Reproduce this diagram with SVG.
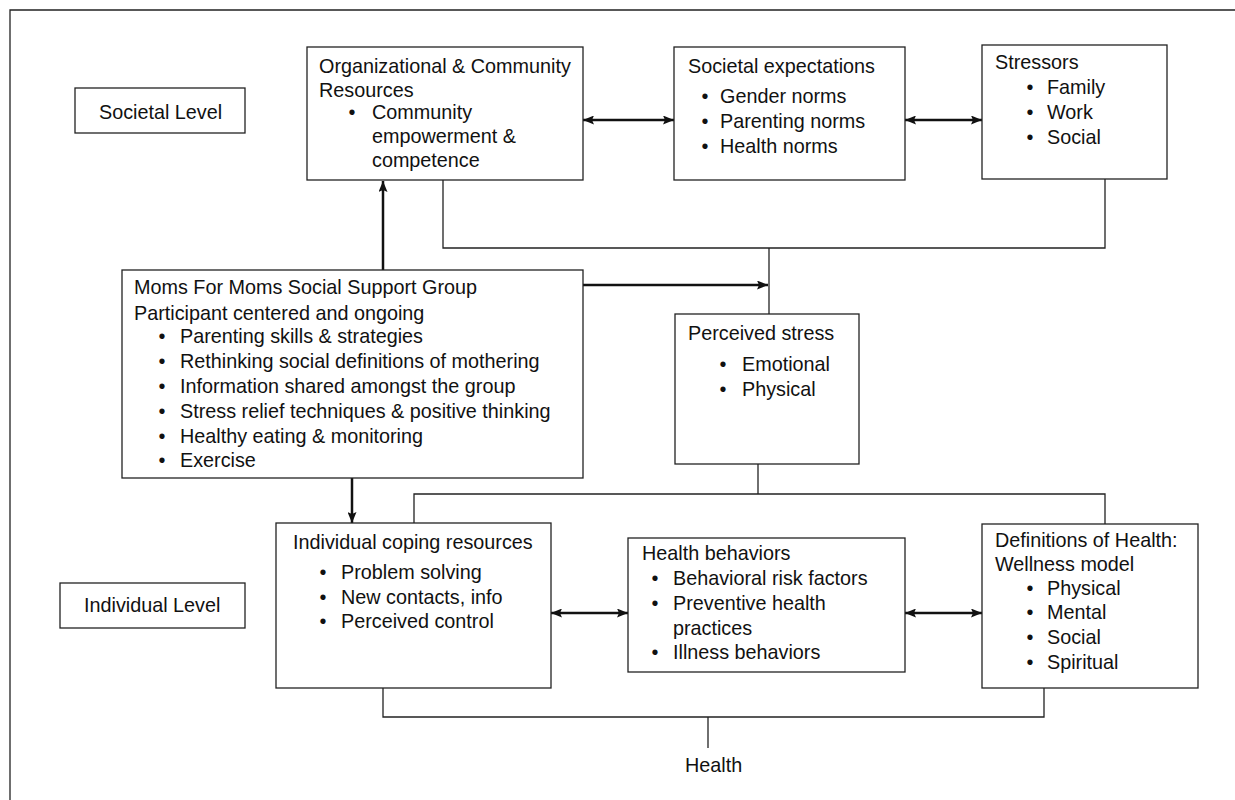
<svg xmlns="http://www.w3.org/2000/svg" width="1235" height="800" viewBox="0 0 1235 800">
<style>
.box{fill:#fff;stroke:#222;stroke-width:1.3}
.ln{fill:none;stroke:#222;stroke-width:1.3}
.ar{fill:none;stroke:#111;stroke-width:2.5}
text{font-family:"Liberation Sans",Arial,sans-serif;font-size:19.8px;fill:#111}
.b{text-anchor:middle}
</style>
<defs>
<marker id="ah" viewBox="0 0 11 9" refX="11" refY="4.5" markerWidth="11" markerHeight="9" markerUnits="userSpaceOnUse" orient="auto-start-reverse">
<path d="M0,0 L11,4.5 L0,9 L2,4.5 z" fill="#111"/>
</marker>
</defs>
<rect width="1235" height="800" fill="#fff"/>
<path class="ln" d="M10,800 L10,10 L1235,10"/>

<g id="connectors">
<polyline class="ln" points="443,180 443,248 1105,248 1105,179"/>
<line class="ln" x1="769" y1="248" x2="769" y2="314"/>
<line class="ln" x1="758" y1="464" x2="758" y2="494"/>
<polyline class="ln" points="414,523 414,494 1105,494 1105,524"/>
<polyline class="ln" points="383,688 383,717 1044,717 1044,688"/>
<line class="ln" x1="708" y1="717" x2="708" y2="748"/>
<line class="ar" x1="583" y1="120" x2="674" y2="120" marker-start="url(#ah)" marker-end="url(#ah)"/>
<line class="ar" x1="905" y1="120" x2="982" y2="120" marker-start="url(#ah)" marker-end="url(#ah)"/>
<line class="ar" x1="383" y1="270" x2="383" y2="181" marker-end="url(#ah)"/>
<line class="ar" x1="583" y1="285" x2="768" y2="285" stroke-width="3" marker-end="url(#ah)"/>
<line class="ar" x1="352" y1="478" x2="352" y2="523" marker-end="url(#ah)"/>
<line class="ar" x1="551" y1="613" x2="628" y2="613" marker-start="url(#ah)" marker-end="url(#ah)"/>
<line class="ar" x1="905" y1="613" x2="982" y2="613" marker-start="url(#ah)" marker-end="url(#ah)"/>
</g>

<g id="societal-level">
<rect class="box" x="75" y="88" width="170" height="45"/>
<text x="99" y="119">Societal Level</text>
</g>

<g id="org-community">
<rect class="box" x="307" y="47" width="276" height="133"/>
<text x="319" y="73">Organizational &amp; Community</text>
<text x="319" y="97">Resources</text>
<text class="b" x="352" y="119">•</text>
<text x="372" y="119">Community</text>
<text x="372" y="143">empowerment &amp;</text>
<text x="372" y="167">competence</text>
</g>

<g id="societal-expectations">
<rect class="box" x="674" y="47" width="231" height="133"/>
<text x="688" y="73">Societal expectations</text>
<text class="b" x="705" y="103">•</text><text x="720" y="103">Gender norms</text>
<text class="b" x="705" y="128">•</text><text x="720" y="128">Parenting norms</text>
<text class="b" x="705" y="153">•</text><text x="720" y="153">Health norms</text>
</g>

<g id="stressors">
<rect class="box" x="982" y="45" width="185" height="134"/>
<text x="995" y="69">Stressors</text>
<text class="b" x="1030" y="94">•</text><text x="1047" y="94">Family</text>
<text class="b" x="1030" y="119">•</text><text x="1047" y="119">Work</text>
<text class="b" x="1030" y="144">•</text><text x="1047" y="144">Social</text>
</g>

<g id="moms-for-moms">
<rect class="box" x="122" y="270" width="461" height="208"/>
<text x="134" y="294">Moms For Moms Social Support Group</text>
<text x="134" y="320">Participant centered and ongoing</text>
<text class="b" x="162" y="343">•</text><text x="180" y="343">Parenting skills &amp; strategies</text>
<text class="b" x="162" y="368">•</text><text x="180" y="368">Rethinking social definitions of mothering</text>
<text class="b" x="162" y="393">•</text><text x="180" y="393">Information shared amongst the group</text>
<text class="b" x="162" y="418">•</text><text x="180" y="418">Stress relief techniques &amp; positive thinking</text>
<text class="b" x="162" y="443">•</text><text x="180" y="443">Healthy eating &amp; monitoring</text>
<text class="b" x="162" y="467">•</text><text x="180" y="467">Exercise</text>
</g>

<g id="perceived-stress">
<rect class="box" x="675" y="314" width="184" height="150"/>
<text x="688" y="340">Perceived stress</text>
<text class="b" x="723" y="371">•</text><text x="742" y="371">Emotional</text>
<text class="b" x="723" y="396">•</text><text x="742" y="396">Physical</text>
</g>

<g id="individual-level">
<rect class="box" x="60" y="583" width="185" height="45"/>
<text x="84" y="612">Individual Level</text>
</g>

<g id="coping-resources">
<rect class="box" x="276" y="523" width="275" height="165"/>
<text x="293" y="549">Individual coping resources</text>
<text class="b" x="323" y="579">•</text><text x="341" y="579">Problem solving</text>
<text class="b" x="323" y="604">•</text><text x="341" y="604">New contacts, info</text>
<text class="b" x="323" y="628">•</text><text x="341" y="628">Perceived control</text>
</g>

<g id="health-behaviors">
<rect class="box" x="628" y="538" width="277" height="134"/>
<text x="642" y="560">Health behaviors</text>
<text class="b" x="655" y="585">•</text><text x="673" y="585">Behavioral risk factors</text>
<text class="b" x="655" y="610">•</text><text x="673" y="610">Preventive health</text>
<text x="673" y="635">practices</text>
<text class="b" x="655" y="659">•</text><text x="673" y="659">Illness behaviors</text>
</g>

<g id="definitions-health">
<rect class="box" x="982" y="524" width="216" height="164"/>
<text x="995" y="547">Definitions of Health:</text>
<text x="995" y="571">Wellness model</text>
<text class="b" x="1030" y="595">•</text><text x="1047" y="595">Physical</text>
<text class="b" x="1030" y="619">•</text><text x="1047" y="619">Mental</text>
<text class="b" x="1030" y="644">•</text><text x="1047" y="644">Social</text>
<text class="b" x="1030" y="669">•</text><text x="1047" y="669">Spiritual</text>
</g>

<g id="health">
<text x="685" y="772">Health</text>
</g>
</svg>
